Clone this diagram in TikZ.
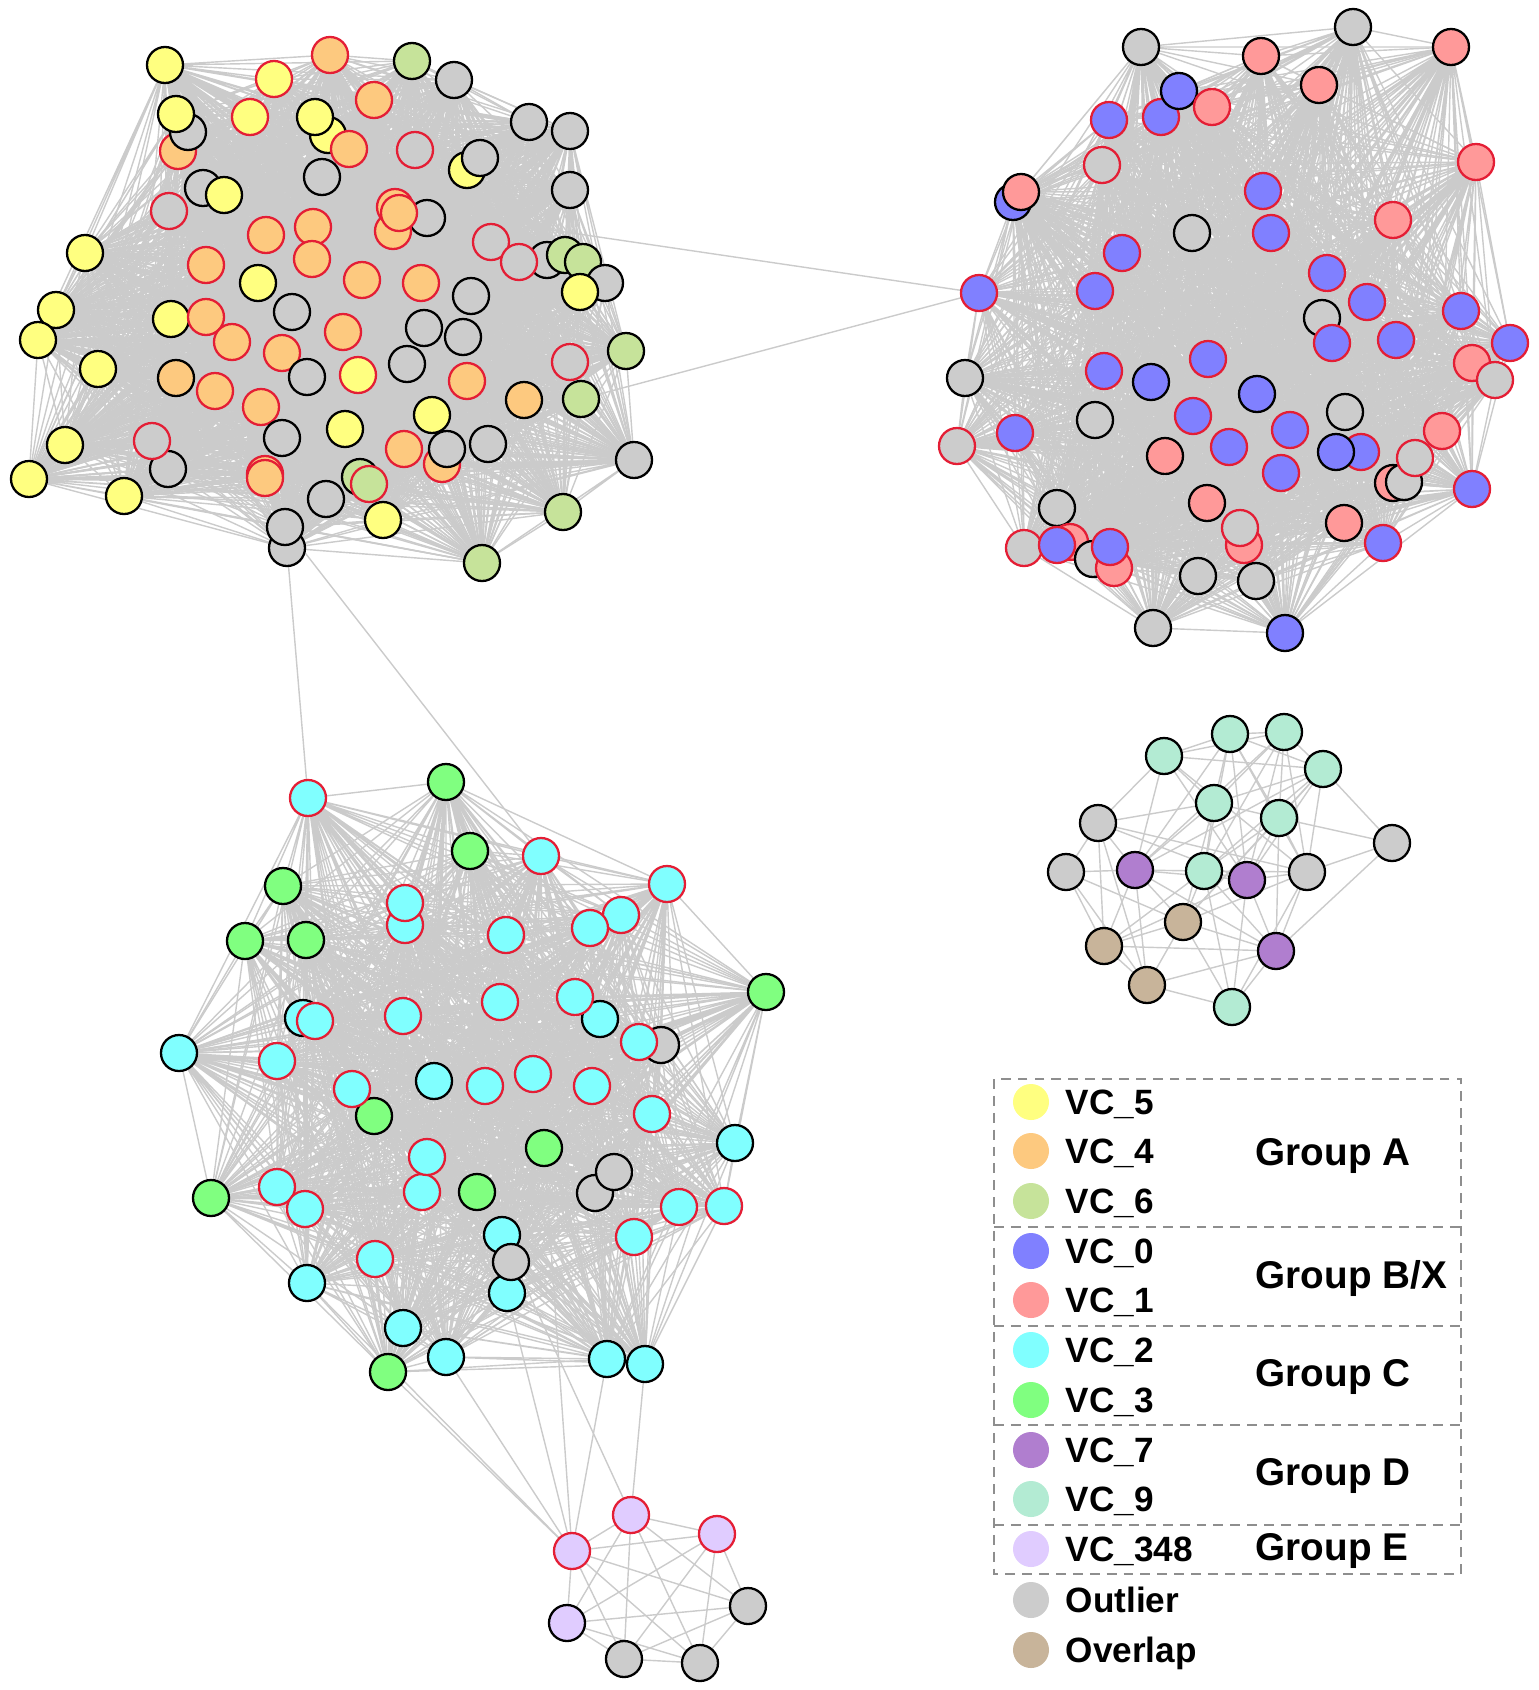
\documentclass[tikz,border=0pt]{standalone}
\usepackage{fontspec}
\setmainfont{Liberation Sans}
\pgfdeclarelayer{bg}
\pgfsetlayers{bg,main}
\definecolor{col5}{HTML}{FFFF80}
\definecolor{col4}{HTML}{FDC97F}
\definecolor{col6}{HTML}{C6E39A}
\definecolor{col0}{HTML}{8080FF}
\definecolor{col1}{HTML}{FF9999}
\definecolor{col2}{HTML}{80FFFF}
\definecolor{col3}{HTML}{80FF80}
\definecolor{col7}{HTML}{B07ECF}
\definecolor{col9}{HTML}{B3EBD3}
\definecolor{col348}{HTML}{E0CCFF}
\definecolor{colo}{HTML}{CCCCCC}
\definecolor{colv}{HTML}{C8B49A}
\definecolor{redb}{HTML}{E41E35}
\definecolor{edgec}{HTML}{CBCBCB}
\definecolor{boxc}{HTML}{8E8E8E}
\tikzset{
  nd/.style={circle, minimum size=0.36cm, inner sep=0pt, line width=0.65pt},
  bk/.style={nd, draw=black},
  rd/.style={nd, draw=redb},
  f5/.style={fill=col5}, f4/.style={fill=col4}, f6/.style={fill=col6},
  f0/.style={fill=col0}, f1/.style={fill=col1}, f2/.style={fill=col2},
  f3/.style={fill=col3}, f7/.style={fill=col7}, f9/.style={fill=col9},
  f348/.style={fill=col348}, fo/.style={fill=colo}, fv/.style={fill=colv},
  edge/.style={draw=edgec, line width=0.4pt},
  leg/.style={circle, minimum size=0.36cm, inner sep=0pt},
  lbl/.style={inner sep=0pt, anchor=base west, font=\fontsize{10}{12}\selectfont\bfseries},
  grp/.style={inner sep=0pt, anchor=base west, font=\fontsize{11}{13}\selectfont\bfseries},
  box/.style={draw=boxc, line width=0.5pt, dash pattern=on 2.8pt off 2pt},
}
\begin{document}
\begin{tikzpicture}[x=0.01cm, y=-0.01cm]
\useasboundingbox (0,0) rectangle (1538,1690);
% ---------------- Cluster A ----------------
\node[f4,rd] (a1) at (178,151) {};
\node[fo,bk] (a2) at (188,132) {};
\node[f5,bk] (a3) at (176,114) {};
\node[f5,bk] (a4) at (165,65) {};
\node[f5,rd] (a5) at (274,79) {};
\node[f4,rd] (a6) at (330,55) {};
\node[f6,bk] (a7) at (412,61) {};
\node[fo,bk] (a8) at (454,80) {};
\node[f4,rd] (a9) at (374,100) {};
\node[f5,rd] (a10) at (250,117) {};
\node[f5,bk] (a11) at (328,135) {};
\node[f5,bk] (a12) at (315,117) {};
\node[f4,rd] (a13) at (349,149) {};
\node[fo,rd] (a14) at (415,150) {};
\node[f5,bk] (a15) at (467,170) {};
\node[fo,bk] (a16) at (480,158) {};
\node[fo,bk] (a17) at (529,122) {};
\node[fo,bk] (a18) at (570,131) {};
\node[fo,bk] (a19) at (570,190) {};
\node[fo,bk] (a20) at (322,177) {};
\node[fo,bk] (a21) at (203,188) {};
\node[f5,bk] (a22) at (224,195) {};
\node[fo,rd] (a23) at (169,211) {};
\node[fo,bk] (a24) at (427,218) {};
\node[f4,rd] (a25) at (393,231) {};
\node[f4,rd] (a26) at (395,207) {};
\node[f4,rd] (a27) at (399,213) {};
\node[f4,rd] (a28) at (266,235) {};
\node[f4,rd] (a29) at (313,227) {};
\node[f4,rd] (a30) at (312,259) {};
\node[fo,rd] (a31) at (491,242) {};
\node[fo,bk] (a33) at (547,260) {};
\node[fo,rd] (a32) at (519,262) {};
\node[f6,bk] (a34) at (565,255) {};
\node[f6,bk] (a35) at (583,262) {};
\node[fo,bk] (a36) at (605,283) {};
\node[f5,bk] (a37) at (580,292) {};
\node[f5,bk] (a38) at (85,253) {};
\node[f4,rd] (a39) at (206,265) {};
\node[f5,bk] (a40) at (258,283) {};
\node[f4,rd] (a41) at (362,280) {};
\node[f4,rd] (a42) at (421,283) {};
\node[fo,bk] (a43) at (471,296) {};
\node[f5,bk] (a44) at (56,310) {};
\node[f5,bk] (a45) at (38,340) {};
\node[f5,bk] (a46) at (171,319) {};
\node[f4,rd] (a47) at (206,317) {};
\node[fo,bk] (a48) at (292,312) {};
\node[f4,rd] (a49) at (343,332) {};
\node[f4,rd] (a50) at (232,342) {};
\node[f4,rd] (a51) at (282,353) {};
\node[fo,bk] (a52) at (424,328) {};
\node[fo,bk] (a53) at (463,337) {};
\node[fo,bk] (a54) at (407,364) {};
\node[f5,bk] (a55) at (98,369) {};
\node[f4,bk] (a56) at (176,378) {};
\node[f4,rd] (a57) at (215,391) {};
\node[fo,bk] (a58) at (307,377) {};
\node[f5,rd] (a59) at (358,375) {};
\node[f4,rd] (a60) at (467,381) {};
\node[fo,rd] (a61) at (570,362) {};
\node[f6,bk] (a62) at (626,351) {};
\node[f4,bk] (a63) at (524,400) {};
\node[f6,bk] (a64) at (581,399) {};
\node[f4,rd] (a65) at (261,407) {};
\node[f5,bk] (a66) at (65,445) {};
\node[fo,bk] (a67) at (168,469) {};
\node[fo,rd] (a68) at (152,441) {};
\node[fo,bk] (a69) at (282,438) {};
\node[f5,bk] (a70) at (345,429) {};
\node[f5,bk] (a71) at (432,415) {};
\node[f4,rd] (a72) at (442,464) {};
\node[f4,rd] (a73) at (404,449) {};
\node[fo,bk] (a74) at (447,449) {};
\node[fo,bk] (a75) at (488,444) {};
\node[fo,bk] (a76) at (634,460) {};
\node[f5,bk] (a77) at (29,479) {};
\node[f5,bk] (a78) at (124,496) {};
\node[f4,rd] (a79) at (265,474) {};
\node[f4,rd] (a80) at (265,478) {};
\node[fo,bk] (a81) at (326,499) {};
\node[f6,bk] (a82) at (360,477) {};
\node[f6,rd] (a83) at (369,484) {};
\node[fo,bk] (a84) at (287,548) {};
\node[fo,bk] (a85) at (285,527) {};
\node[f5,bk] (a86) at (383,520) {};
\node[f6,bk] (a87) at (563,512) {};
\node[f6,bk] (a88) at (482,563) {};
% ---------------- Cluster B ----------------
\node[fo,bk] (b1) at (1141,47) {};
\node[fo,bk] (b2) at (1353,27) {};
\node[f1,bk] (b3) at (1261,56) {};
\node[f1,bk] (b4) at (1319,85) {};
\node[f1,bk] (b5) at (1451,47) {};
\node[f0,rd] (b6) at (1161,117) {};
\node[f0,bk] (b7) at (1179,91) {};
\node[f1,rd] (b8) at (1212,107) {};
\node[f0,rd] (b9) at (1109,120) {};
\node[fo,rd] (b10) at (1102,165) {};
\node[f0,bk] (b11) at (1013,202) {};
\node[f1,bk] (b12) at (1021,192) {};
\node[f1,rd] (b13) at (1476,162) {};
\node[f0,rd] (b14) at (1263,191) {};
\node[fo,bk] (b15) at (1192,233) {};
\node[f0,rd] (b16) at (1271,233) {};
\node[f1,rd] (b17) at (1393,220) {};
\node[f0,rd] (b18) at (1122,253) {};
\node[f0,rd] (b19) at (1095,291) {};
\node[f0,rd] (b20) at (979,293) {};
\node[f0,rd] (b21) at (1327,273) {};
\node[f0,rd] (b22) at (1367,302) {};
\node[fo,bk] (b23) at (1322,318) {};
\node[f0,rd] (b24) at (1461,311) {};
\node[f0,rd] (b25) at (1332,343) {};
\node[f0,rd] (b26) at (1396,340) {};
\node[f1,rd] (b27) at (1472,363) {};
\node[f0,rd] (b28) at (1510,343) {};
\node[fo,rd] (b29) at (1495,380) {};
\node[fo,bk] (b30) at (965,378) {};
\node[f0,rd] (b31) at (1104,371) {};
\node[f0,bk] (b32) at (1151,382) {};
\node[f0,rd] (b33) at (1208,359) {};
\node[f0,bk] (b34) at (1257,394) {};
\node[f0,rd] (b35) at (1193,416) {};
\node[fo,bk] (b36) at (1095,420) {};
\node[f0,rd] (b37) at (1015,433) {};
\node[fo,rd] (b38) at (957,446) {};
\node[f1,bk] (b39) at (1165,456) {};
\node[f0,rd] (b40) at (1229,447) {};
\node[f0,rd] (b41) at (1290,430) {};
\node[f0,rd] (b42) at (1281,473) {};
\node[fo,bk] (b43) at (1345,412) {};
\node[f0,rd] (b44) at (1361,452) {};
\node[f0,bk] (b45) at (1336,452) {};
\node[f1,rd] (b46) at (1442,431) {};
\node[f1,bk] (b47) at (1393,483) {};
\node[fo,bk] (b48) at (1404,482) {};
\node[fo,rd] (b49) at (1415,458) {};
\node[f0,rd] (b50) at (1472,489) {};
\node[f1,bk] (b51) at (1207,503) {};
\node[fo,bk] (b52) at (1057,508) {};
\node[f1,rd] (b53) at (1070,542) {};
\node[fo,rd] (b54) at (1024,548) {};
\node[f0,rd] (b55) at (1057,545) {};
\node[fo,bk] (b56) at (1093,559) {};
\node[f1,rd] (b57) at (1114,568) {};
\node[f0,rd] (b58) at (1110,547) {};
\node[f1,rd] (b59) at (1244,545) {};
\node[fo,rd] (b60) at (1240,528) {};
\node[f1,bk] (b61) at (1344,523) {};
\node[f0,rd] (b62) at (1383,543) {};
\node[fo,bk] (b63) at (1198,576) {};
\node[fo,bk] (b64) at (1256,581) {};
\node[fo,bk] (b65) at (1153,628) {};
\node[f0,bk] (b66) at (1285,633) {};
% ---------------- Cluster C ----------------
\node[f2,rd] (c1) at (308,798) {};
\node[f3,bk] (c2) at (446,782) {};
\node[f3,bk] (c3) at (470,851) {};
\node[f2,rd] (c4) at (541,856) {};
\node[f2,rd] (c5) at (667,884) {};
\node[f3,bk] (c6) at (283,886) {};
\node[f3,bk] (c7) at (245,941) {};
\node[f3,bk] (c8) at (306,940) {};
\node[f2,rd] (c9) at (405,925) {};
\node[f2,rd] (c10) at (405,903) {};
\node[f2,rd] (c11) at (506,935) {};
\node[f2,rd] (c12) at (621,915) {};
\node[f2,rd] (c13) at (590,928) {};
\node[f3,bk] (c14) at (766,992) {};
\node[f2,bk] (c15) at (303,1018) {};
\node[f2,rd] (c16) at (315,1021) {};
\node[f2,rd] (c17) at (403,1016) {};
\node[f2,rd] (c18) at (500,1002) {};
\node[f2,bk] (c19) at (600,1019) {};
\node[f2,rd] (c20) at (575,997) {};
\node[fo,bk] (c21) at (661,1045) {};
\node[f2,rd] (c22) at (639,1042) {};
\node[f2,bk] (c23) at (179,1053) {};
\node[f2,rd] (c24) at (277,1061) {};
\node[f3,bk] (c25) at (374,1116) {};
\node[f2,rd] (c26) at (352,1089) {};
\node[f2,bk] (c27) at (434,1081) {};
\node[f2,rd] (c28) at (485,1086) {};
\node[f2,rd] (c29) at (533,1074) {};
\node[f2,rd] (c30) at (592,1086) {};
\node[f2,rd] (c31) at (652,1114) {};
\node[f3,bk] (c32) at (544,1148) {};
\node[f2,bk] (c33) at (735,1143) {};
\node[f2,rd] (c34) at (422,1192) {};
\node[f2,rd] (c35) at (427,1157) {};
\node[f3,bk] (c36) at (477,1192) {};
\node[fo,bk] (c37) at (595,1193) {};
\node[fo,bk] (c38) at (614,1172) {};
\node[f3,bk] (c39) at (211,1198) {};
\node[f2,rd] (c40) at (277,1187) {};
\node[f2,rd] (c41) at (305,1209) {};
\node[f2,rd] (c42) at (679,1207) {};
\node[f2,rd] (c43) at (724,1206) {};
\node[f2,rd] (c44) at (634,1237) {};
\node[f2,bk] (c45) at (502,1235) {};
\node[f2,bk] (c46) at (507,1293) {};
\node[fo,bk] (c47) at (511,1262) {};
\node[f2,rd] (c48) at (375,1259) {};
\node[f2,bk] (c49) at (307,1283) {};
\node[f2,bk] (c50) at (403,1328) {};
\node[f2,bk] (c51) at (446,1357) {};
\node[f3,bk] (c52) at (388,1372) {};
\node[f2,bk] (c53) at (607,1359) {};
\node[f2,bk] (c54) at (645,1364) {};
% ---------------- Cluster D ----------------
\node[f9,bk] (d1) at (1164,756) {};
\node[f9,bk] (d2) at (1230,734) {};
\node[f9,bk] (d3) at (1284,732) {};
\node[f9,bk] (d4) at (1323,769) {};
\node[f9,bk] (d5) at (1214,803) {};
\node[f9,bk] (d6) at (1279,818) {};
\node[fo,bk] (d7) at (1098,823) {};
\node[fo,bk] (d8) at (1392,843) {};
\node[fo,bk] (d9) at (1066,872) {};
\node[f7,bk] (d10) at (1135,870) {};
\node[f9,bk] (d11) at (1204,871) {};
\node[f7,bk] (d12) at (1247,880) {};
\node[fo,bk] (d13) at (1307,872) {};
\node[fv,bk] (d14) at (1183,922) {};
\node[fv,bk] (d15) at (1104,946) {};
\node[f7,bk] (d16) at (1276,951) {};
\node[fv,bk] (d17) at (1147,985) {};
\node[f9,bk] (d18) at (1232,1007) {};
% ---------------- Cluster E ----------------
\node[f348,rd] (e1) at (631,1515) {};
\node[f348,rd] (e2) at (717,1534) {};
\node[f348,rd] (e3) at (572,1551) {};
\node[f348,bk] (e4) at (567,1623) {};
\node[fo,bk] (e5) at (748,1606) {};
\node[fo,bk] (e6) at (624,1659) {};
\node[fo,bk] (e7) at (700,1663) {};
% ---------------- Edges ----------------
\begin{pgfonlayer}{bg}
\foreach \i in {1,...,87}{\pgfmathtruncatemacro\k{\i+1}
  \draw[edge] \foreach \j in {\k,...,88}{(a\i.center)--(a\j.center)};}
\foreach \i in {1,...,65}{\pgfmathtruncatemacro\k{\i+1}
  \draw[edge] \foreach \j in {\k,...,66}{(b\i.center)--(b\j.center)};}
\foreach \i in {1,...,53}{\pgfmathtruncatemacro\k{\i+1}
  \draw[edge] \foreach \j in {\k,...,54}{(c\i.center)--(c\j.center)};}
\foreach \i in {1,...,6}{\pgfmathtruncatemacro\k{\i+1}
  \draw[edge] \foreach \j in {\k,...,7}{(e\i.center)--(e\j.center)};}
\foreach \u/\v in {d1/d2,d2/d3,d1/d3,d3/d4,d2/d4,d1/d4,d1/d7,d1/d10,d1/d5,d1/d12,d1/d13,
  d2/d5,d2/d11,d2/d12,d2/d6,d2/d13,d2/d10,d3/d5,d3/d6,d3/d10,d3/d11,d3/d12,d3/d13,
  d4/d8,d4/d6,d4/d5,d4/d10,d4/d11,d4/d12,d4/d13,d4/d14,d5/d7,d5/d6,d5/d11,d5/d12,d5/d10,d5/d14,
  d6/d13,d6/d12,d6/d8,d6/d11,d6/d16,d6/d14,d7/d9,d7/d10,d7/d12,d7/d13,d7/d15,d7/d17,
  d8/d13,d8/d16,d9/d10,d9/d15,d9/d17,d9/d14,d10/d11,d10/d12,d10/d14,d10/d15,d10/d17,d10/d16,
  d11/d12,d11/d13,d11/d14,d11/d15,d11/d16,d11/d18,d12/d13,d12/d16,d12/d18,d12/d15,
  d13/d16,d13/d18,d13/d14,d14/d15,d14/d17,d14/d18,d14/d16,d15/d16,d15/d17,d16/d18,d16/d17,d17/d18}
  {\draw[edge] (\u.center)--(\v.center);}
% inter-cluster
\draw[edge] (a26.center)--(b20.center);
\draw[edge] (a64.center)--(b20.center);
\draw[edge] (a85.center)--(c4.center);
\draw[edge] (a84.center)--(c1.center);
\foreach \u in {c49,c52,c51,c46,c32,c53}{\draw[edge] (\u.center)--(e3.center);}
\foreach \u in {c45,c54}{\draw[edge] (\u.center)--(e1.center);}
\end{pgfonlayer}
% ---------------- Legend ----------------
\draw[box] (994,1079) rectangle (1461,1574);
\foreach \yy in {1227,1326,1425,1525}{\draw[box] (994,\yy) -- (1461,\yy);}
\foreach \c/\t/\yy [count=\n] in {col5/VC\_5/1102, col4/VC\_4/1151, col6/VC\_6/1201,
   col0/VC\_0/1251, col1/VC\_1/1300, col2/VC\_2/1350, col3/VC\_3/1400,
   col7/VC\_7/1450, col9/VC\_9/1499, col348/VC\_348/1549, colo/Outlier/1600, colv/Overlap/1650}
{
  \node[leg, fill=\c] (L\n) at (1031,\yy) {};
  \node[lbl] (T\n) at (1065,\yy+12.5) {\t};
}
\node[grp] (GA) at (1255,1151+14) {Group A};
\node[grp] (GB) at (1255,1274+14) {Group B/X};
\node[grp] (GC) at (1255,1372+14) {Group C};
\node[grp] (GD) at (1255,1471+14) {Group D};
\node[grp] (GE) at (1255,1546+14) {Group E};
\end{tikzpicture}
\end{document}
